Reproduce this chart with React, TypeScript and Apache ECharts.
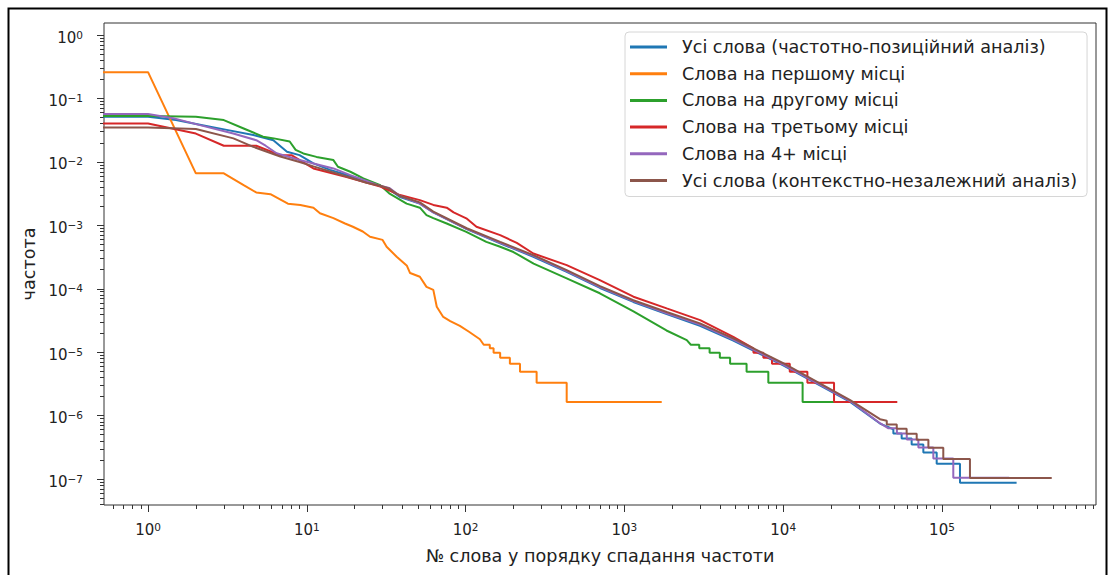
import React, { useEffect, useRef } from "react";
import * as echarts from "echarts";

const FONT = "DejaVu Sans";
const TEXT = "#222222";
const AXIS = "#333333";

const SERIES_NAMES = [
  "Усі слова (частотно-позиційний аналіз)",
  "Слова на першому місці",
  "Слова на другому місці",
  "Слова на третьому місці",
  "Слова на 4+ місці",
  "Усі слова (контекстно-незалежний аналіз)",
];
const SERIES_COLORS = ["#1f77b4", "#ff7f0e", "#2ca02c", "#d62728", "#9467bd", "#8c564b"];

// [rank, frequency]
const allPositional: [number, number][] = [
  [0.5, 0.0515], [1, 0.0515], [1.5, 0.0457], [2.2, 0.038], [3.13, 0.032], [4.6, 0.0265],
  [6.15, 0.022], [7.5, 0.0145], [9, 0.0128], [11, 0.0095], [14, 0.0075], [18.8, 0.006],
  [29, 0.0042], [33, 0.0037], [38.6, 0.0028], [51.5, 0.0022], [62.6, 0.0016], [101.6, 0.00087],
  [165, 0.00052], [267, 0.00032], [433, 0.000185], [702, 0.000103], [1138, 0.000062],
  [1846, 0.00004], [2992, 0.000026], [4850, 0.0000153], [10000, 0.0000062], [26400, 0.00000165],
  [40700, 0.00000075], [49400, 0.00000061], [49400, 0.000000525], [55700, 0.000000525],
  [55700, 0.000000438], [64400, 0.000000438], [64400, 0.00000035], [76300, 0.00000035],
  [76300, 0.000000263], [92600, 0.000000263], [92600, 0.000000175], [129800, 0.000000175],
  [129800, 0.0000000875], [295000, 0.0000000875],
];

const firstPlace: [number, number][] = [
  [0.5, 0.26], [1, 0.26], [2, 0.0066], [3, 0.0066], [4, 0.0043], [4.8, 0.0033], [5.9, 0.0031],
  [7.6, 0.0022], [9.1, 0.0021], [11, 0.0019], [12.1, 0.00155], [14.7, 0.0013], [17.4, 0.00107],
  [19.5, 0.00095], [22.5, 0.0008], [25, 0.00066], [30, 0.00059], [31.8, 0.00046], [36.8, 0.00032],
  [42.7, 0.00023], [44.7, 0.000177], [51.5, 0.000155], [56.7, 0.000107], [62.6, 0.000096],
  [65.8, 0.000052], [72.3, 0.000036], [80, 0.000031], [92, 0.000026], [105, 0.000021],
  [123, 0.000016], [130, 0.0000131], [142, 0.0000131], [142, 0.0000115], [150, 0.0000115],
  [150, 0.0000098], [165, 0.0000098], [165, 0.0000082], [190, 0.0000082], [190, 0.0000066],
  [220, 0.0000066], [220, 0.0000049], [280, 0.0000049], [280, 0.0000033], [433, 0.0000033],
  [433, 0.00000164], [1718, 0.00000164],
];

const secondPlace: [number, number][] = [
  [0.5, 0.0528], [1, 0.0528], [2, 0.0515], [3, 0.0457], [4, 0.0337], [5.3, 0.025], [6.2, 0.0235],
  [7.8, 0.021], [8.5, 0.0155], [9.5, 0.0136], [11.5, 0.012], [14.7, 0.0107], [15.7, 0.0084],
  [18.8, 0.007], [22.7, 0.0055], [29, 0.0043], [33, 0.0032], [42.5, 0.0022], [51.5, 0.0019],
  [56.7, 0.00145], [62.6, 0.0013], [76, 0.00107], [101, 0.00079], [135, 0.00055], [165, 0.00046],
  [200, 0.00038], [268, 0.00025], [433, 0.000146], [700, 0.000085], [1140, 0.000044],
  [1840, 0.000022], [2470, 0.0000155], [2620, 0.0000131], [2960, 0.0000131], [2960, 0.0000115],
  [3440, 0.0000115], [3440, 0.0000098], [3990, 0.0000098], [3990, 0.0000082], [4630, 0.0000082],
  [4630, 0.0000066], [5880, 0.0000066], [5880, 0.0000049], [8060, 0.0000049], [8060, 0.0000033],
  [13250, 0.0000033], [13250, 0.00000164], [38800, 0.00000164],
];

const thirdPlace: [number, number][] = [
  [0.5, 0.0405], [1, 0.0405], [2, 0.028], [3, 0.018], [4.8, 0.018], [6.8, 0.0128], [8, 0.0128],
  [11, 0.0079], [17.8, 0.0058], [29, 0.0041], [38.6, 0.003], [51.5, 0.0025], [62.6, 0.0021],
  [76, 0.0019], [84, 0.0016], [101, 0.00129], [117, 0.00095], [165, 0.0007], [210, 0.00053],
  [267, 0.00036], [433, 0.000236], [700, 0.000137], [1140, 0.000075], [1846, 0.000049],
  [3000, 0.000032], [4850, 0.0000175], [6500, 0.0000115], [6500, 0.0000098], [7500, 0.0000098],
  [7500, 0.0000082], [8500, 0.0000082], [8500, 0.0000066], [11000, 0.0000066], [11000, 0.0000049],
  [14200, 0.0000049], [14200, 0.0000033], [20900, 0.0000033], [20900, 0.00000164],
  [52300, 0.00000164],
];

const fourthPlus: [number, number][] = [
  [0.5, 0.0569], [1, 0.0569], [1.44, 0.049], [2.12, 0.038], [3.44, 0.028], [4.8, 0.022],
  [5.5, 0.018], [6.45, 0.0137], [9, 0.0107], [14.7, 0.0079], [18.8, 0.0062], [29, 0.0042],
  [33, 0.0039], [38.6, 0.0029], [51.5, 0.0022], [62.6, 0.0016], [101.6, 0.00088], [165, 0.00053],
  [267, 0.00033], [433, 0.00019], [702, 0.000106], [1138, 0.000064], [1846, 0.000041],
  [2992, 0.0000272], [4850, 0.0000158], [10000, 0.0000064], [26400, 0.0000017], [40700, 0.00000076],
  [46000, 0.00000063], [52000, 0.00000063], [52000, 0.000000525], [60000, 0.000000525],
  [60000, 0.00000042], [71000, 0.00000042], [71000, 0.000000315], [88200, 0.000000315],
  [88200, 0.00000021], [117800, 0.00000021], [117800, 0.000000105], [265000, 0.000000105],
];

const allContextFree: [number, number][] = [
  [0.5, 0.035], [1, 0.035], [2, 0.033], [3.45, 0.0235], [4.6, 0.0173], [6.8, 0.0122], [9, 0.01],
  [11, 0.0085], [17.8, 0.0059], [23.8, 0.0047], [29, 0.0042], [33, 0.0038], [38.6, 0.0029],
  [51.5, 0.0023], [62.6, 0.00165], [101.6, 0.0009], [165, 0.00055], [267, 0.00034], [433, 0.000197],
  [702, 0.00011], [1138, 0.000066], [1846, 0.000043], [2992, 0.0000285], [4850, 0.0000165],
  [10000, 0.0000067], [26400, 0.00000176], [40700, 0.00000088], [44900, 0.000000832],
  [44900, 0.000000728], [51900, 0.000000728], [51900, 0.000000624], [59900, 0.000000624],
  [59900, 0.00000052], [69300, 0.00000052], [69300, 0.000000416], [82100, 0.000000416],
  [82100, 0.000000312], [101900, 0.000000312], [101900, 0.000000208], [150000, 0.000000208],
  [150000, 0.000000104], [491000, 0.000000104],
];

const SERIES_DATA = [allPositional, firstPlace, secondPlace, thirdPlace, fourthPlus, allContextFree];

// axis extents (raw values) and decade ticks (exponents)
const X_RANGE = [0.528, 933000];
const Y_RANGE = [3.9e-8, 1.55];
const X_DECADES = [0, 1, 2, 3, 4, 5];
const Y_DECADES = [0, -1, -2, -3, -4, -5, -6, -7];

const lg = (v: number) => Math.log10(v);

function minorValues(lo: number, hi: number): number[] {
  const out: number[] = [];
  for (let n = Math.floor(lo) - 1; n <= Math.ceil(hi); n++) {
    for (let k = 2; k <= 9; k++) {
      const v = n + Math.log10(k);
      if (v > lo && v < hi) out.push(v);
    }
  }
  return out;
}

const powLabel = (v: number) => {
  const n = Math.round(v);
  const e = n < 0 ? "\u2212" + String(-n) : String(n);
  return `{b|10}{s|${e}}`;
};

const richLabel = {
  b: { fontFamily: FONT, fontSize: 15, color: TEXT, lineHeight: 17 },
  s: { fontFamily: FONT, fontSize: 10.5, color: TEXT, lineHeight: 8, verticalAlign: "top" },
};

const LABEL_FS = 17.6;

export default function App() {
  const ref = useRef<HTMLDivElement>(null);

  useEffect(() => {
    if (!ref.current) return;
    const chart = echarts.init(ref.current, undefined, { renderer: "svg" });
    const xMin = lg(X_RANGE[0]);
    const xMax = lg(X_RANGE[1]);
    const yMin = lg(Y_RANGE[0]);
    const yMax = lg(Y_RANGE[1]);

    const option: any = {
      animation: false,
      backgroundColor: "#ffffff",
      graphic: [
        {
          type: "rect",
          shape: { x: 8.5, y: 8.5, width: 1098, height: 620 },
          style: { fill: "none", stroke: "#000000", lineWidth: 2 },
          silent: true,
          z: 100,
        },
      ],
      grid: {
        left: 104,
        top: 23,
        width: 992,
        height: 482,
        show: true,
        borderColor: AXIS,
        borderWidth: 1,
        backgroundColor: "#ffffff",
      },
      legend: {
        orient: "vertical",
        left: 625,
        top: 32,
        padding: [5, 10, 6, 5],
        icon: "rect",
        itemWidth: 37,
        itemHeight: 3,
        itemGap: 6.7,
        backgroundColor: "rgba(255,255,255,0.8)",
        borderColor: "#d6d6d6",
        borderWidth: 1,
        borderRadius: 4,
        selectedMode: false,
        textStyle: { fontFamily: FONT, fontSize: LABEL_FS, color: TEXT, lineHeight: 20, padding: [0, 0, 0, 10] },
        data: SERIES_NAMES,
      },
      xAxis: [
        {
          type: "value",
          min: xMin,
          max: xMax,
          position: "bottom",
          name: "№ слова у порядку спадання частоти",
          nameLocation: "middle",
          nameGap: 42,
          nameTextStyle: { fontFamily: FONT, fontSize: LABEL_FS, color: TEXT },
          axisLine: { show: false, onZero: false },
          splitLine: { show: false },
          axisTick: { show: true, customValues: X_DECADES, length: 7, lineStyle: { color: AXIS, width: 1 } },
          axisLabel: { show: true, customValues: X_DECADES, margin: 16, formatter: powLabel, rich: richLabel },
        },
        {
          type: "value",
          min: xMin,
          max: xMax,
          position: "bottom",
          offset: 0,
          axisLine: { show: false, onZero: false },
          splitLine: { show: false },
          axisTick: { show: true, customValues: minorValues(xMin, xMax), length: 4, lineStyle: { color: AXIS, width: 1 } },
          axisLabel: { show: false },
        },
      ],
      yAxis: [
        {
          type: "value",
          min: yMin,
          max: yMax,
          position: "left",
          name: "частота",
          nameLocation: "middle",
          nameGap: 64,
          nameRotate: 90,
          nameTextStyle: { fontFamily: FONT, fontSize: LABEL_FS, color: TEXT },
          axisLine: { show: false, onZero: false },
          splitLine: { show: false },
          axisTick: { show: true, customValues: Y_DECADES, length: 7, lineStyle: { color: AXIS, width: 1 } },
          axisLabel: { show: true, customValues: Y_DECADES, margin: 21, padding: [5, 0, 0, 0], formatter: powLabel, rich: richLabel },
        },
        {
          type: "value",
          min: yMin,
          max: yMax,
          position: "left",
          offset: 0,
          axisLine: { show: false, onZero: false },
          splitLine: { show: false },
          axisTick: { show: true, customValues: minorValues(yMin, yMax), length: 4, lineStyle: { color: AXIS, width: 1 } },
          axisLabel: { show: false },
        },
      ],
      series: SERIES_DATA.map((d, i) => ({
        name: SERIES_NAMES[i],
        type: "line",
        xAxisIndex: 0,
        yAxisIndex: 0,
        symbol: "none",
        clip: true,
        color: SERIES_COLORS[i],
        lineStyle: { color: SERIES_COLORS[i], width: 2 },
        data: d.map(([r, f]) => [lg(r), lg(f)]),
      })),
    };
    chart.setOption(option);
    return () => chart.dispose();
  }, []);

  return (
    <div
      ref={ref}
      style={{ position: "fixed", left: 0, top: 0, width: 1109, height: 575, background: "#fff" }}
    />
  );
}
